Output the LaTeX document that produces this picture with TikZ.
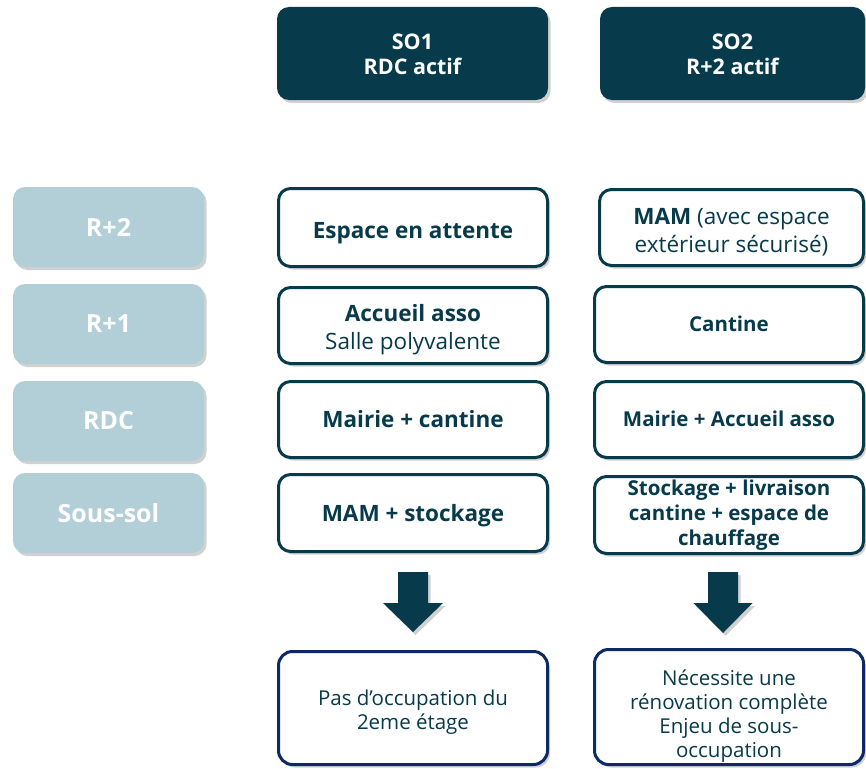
\documentclass[tikz,border=0pt]{standalone}
\usepackage{fontspec}
\setmainfont{Open Sans}
\usetikzlibrary{shadows}
\definecolor{dteal}{HTML}{073B4C}
\definecolor{ltblue}{HTML}{B2CED7}
\definecolor{navy}{HTML}{0B2A66}
\newcommand\dnshift[2]{\raisebox{-#1}[\height][\depth]{\begin{tabular}{@{}c@{}}#2\end{tabular}}}
\tikzset{
  shad/.style={drop shadow={opacity=0.30,shadow xshift=2.5pt,shadow yshift=-3pt,fill=black!60}},
  head/.style={shad,fill=dteal,rounded corners=12pt,text=white,font=\bfseries\fontsize{21.5}{25}\selectfont,align=center,inner sep=0pt},
  lvl/.style={shad,fill=ltblue,rounded corners=12pt,text=white,font=\bfseries\fontsize{25}{28}\selectfont,align=center,inner sep=0pt,minimum width=191pt,minimum height=80pt},
  cell/.style={shad,fill=white,draw=dteal,line width=3pt,rounded corners=12pt,text=dteal,align=center,inner sep=0pt},
  bigt/.style={font=\bfseries\fontsize{22.5}{28}\selectfont},
  smt/.style={font=\bfseries\fontsize{20.5}{25}\selectfont},
  res/.style={shad,fill=white,draw=navy,line width=3pt,rounded corners=14pt,text=dteal,align=center,inner sep=0pt,font=\fontsize{20.5}{24}\selectfont},
  barrow/.style={shad,fill=dteal},
}
\begin{document}
\begin{tikzpicture}[x=1pt,y=-1pt]
\useasboundingbox (0,0) rectangle (866,768);
% headers
\node[head,minimum width=271pt,minimum height=93pt] (so1) at (412.5,53.5) {\dnshift{4pt}{SO1\\RDC actif}};
\node[head,minimum width=265pt,minimum height=93pt] (so2) at (732.5,53.5) {\dnshift{4pt}{SO2\\R+2 actif}};
% levels
\node[lvl] (l2) at (108.5,227) {R+2};
\node[lvl] (l1) at (108.5,324) {R+1};
\node[lvl] (l0) at (108.5,421) {RDC};
\node[lvl] (lss) at (108.5,513) {Sous-sol};
% SO1 column
\node[cell,bigt,minimum width=269pt,minimum height=78pt] (a2) at (413,227.5) {\dnshift{5pt}{Espace en attente}};
\node[cell,bigt,minimum width=269pt,minimum height=76pt] (a1) at (413,325.5) {\dnshift{4pt}{Accueil asso\\\mdseries Salle polyvalente}};
\node[cell,bigt,minimum width=269pt,minimum height=76pt] (a0) at (413,419.5) {\dnshift{2.5pt}{Mairie + cantine}};
\node[cell,bigt,minimum width=269pt,minimum height=77pt] (ass) at (413,513) {\dnshift{3pt}{MAM + stockage}};
% SO2 column
\node[cell,font=\fontsize{22.5}{28}\selectfont,minimum width=264pt,minimum height=76pt] (b2) at (731.5,227.5) {\dnshift{5pt}{\textbf{MAM} (avec espace\\extérieur sécurisé)}};
\node[cell,smt,minimum width=269pt,minimum height=76pt] (b1) at (729,324.5) {\dnshift{2pt}{Cantine}};
\node[cell,smt,minimum width=269pt,minimum height=76pt] (b0) at (729,419.5) {\dnshift{2pt}{Mairie + Accueil asso}};
\node[cell,smt,minimum width=269pt,minimum height=77pt] (bss) at (729,515) {Stockage + livraison\\cantine + espace de\\chauffage};
% results
\node[res,minimum width=269pt,minimum height=113pt] (ra) at (413,708) {\dnshift{5pt}{Pas d’occupation du\\2eme étage}};
\node[res,minimum width=269pt,minimum height=115pt] (rb) at (729,707) {\dnshift{10pt}{Nécessite une\\rénovation complète\\Enjeu de sous-\\occupation}};
% block arrows
\coordinate (pa) at (413,572);
\coordinate (pb) at (723,572);
\fill[barrow] (pa) ++(-15,0) -- ++(30,0) -- ++(0,31) -- ++(15,0) -- ++(-30,29) -- ++(-30,-29) -- ++(15,0) -- cycle;
\fill[barrow] (pb) ++(-15,0) -- ++(30,0) -- ++(0,31) -- ++(14.5,0) -- ++(-29.5,30) -- ++(-29.5,-30) -- ++(14.5,0) -- cycle;
\end{tikzpicture}
\end{document}
